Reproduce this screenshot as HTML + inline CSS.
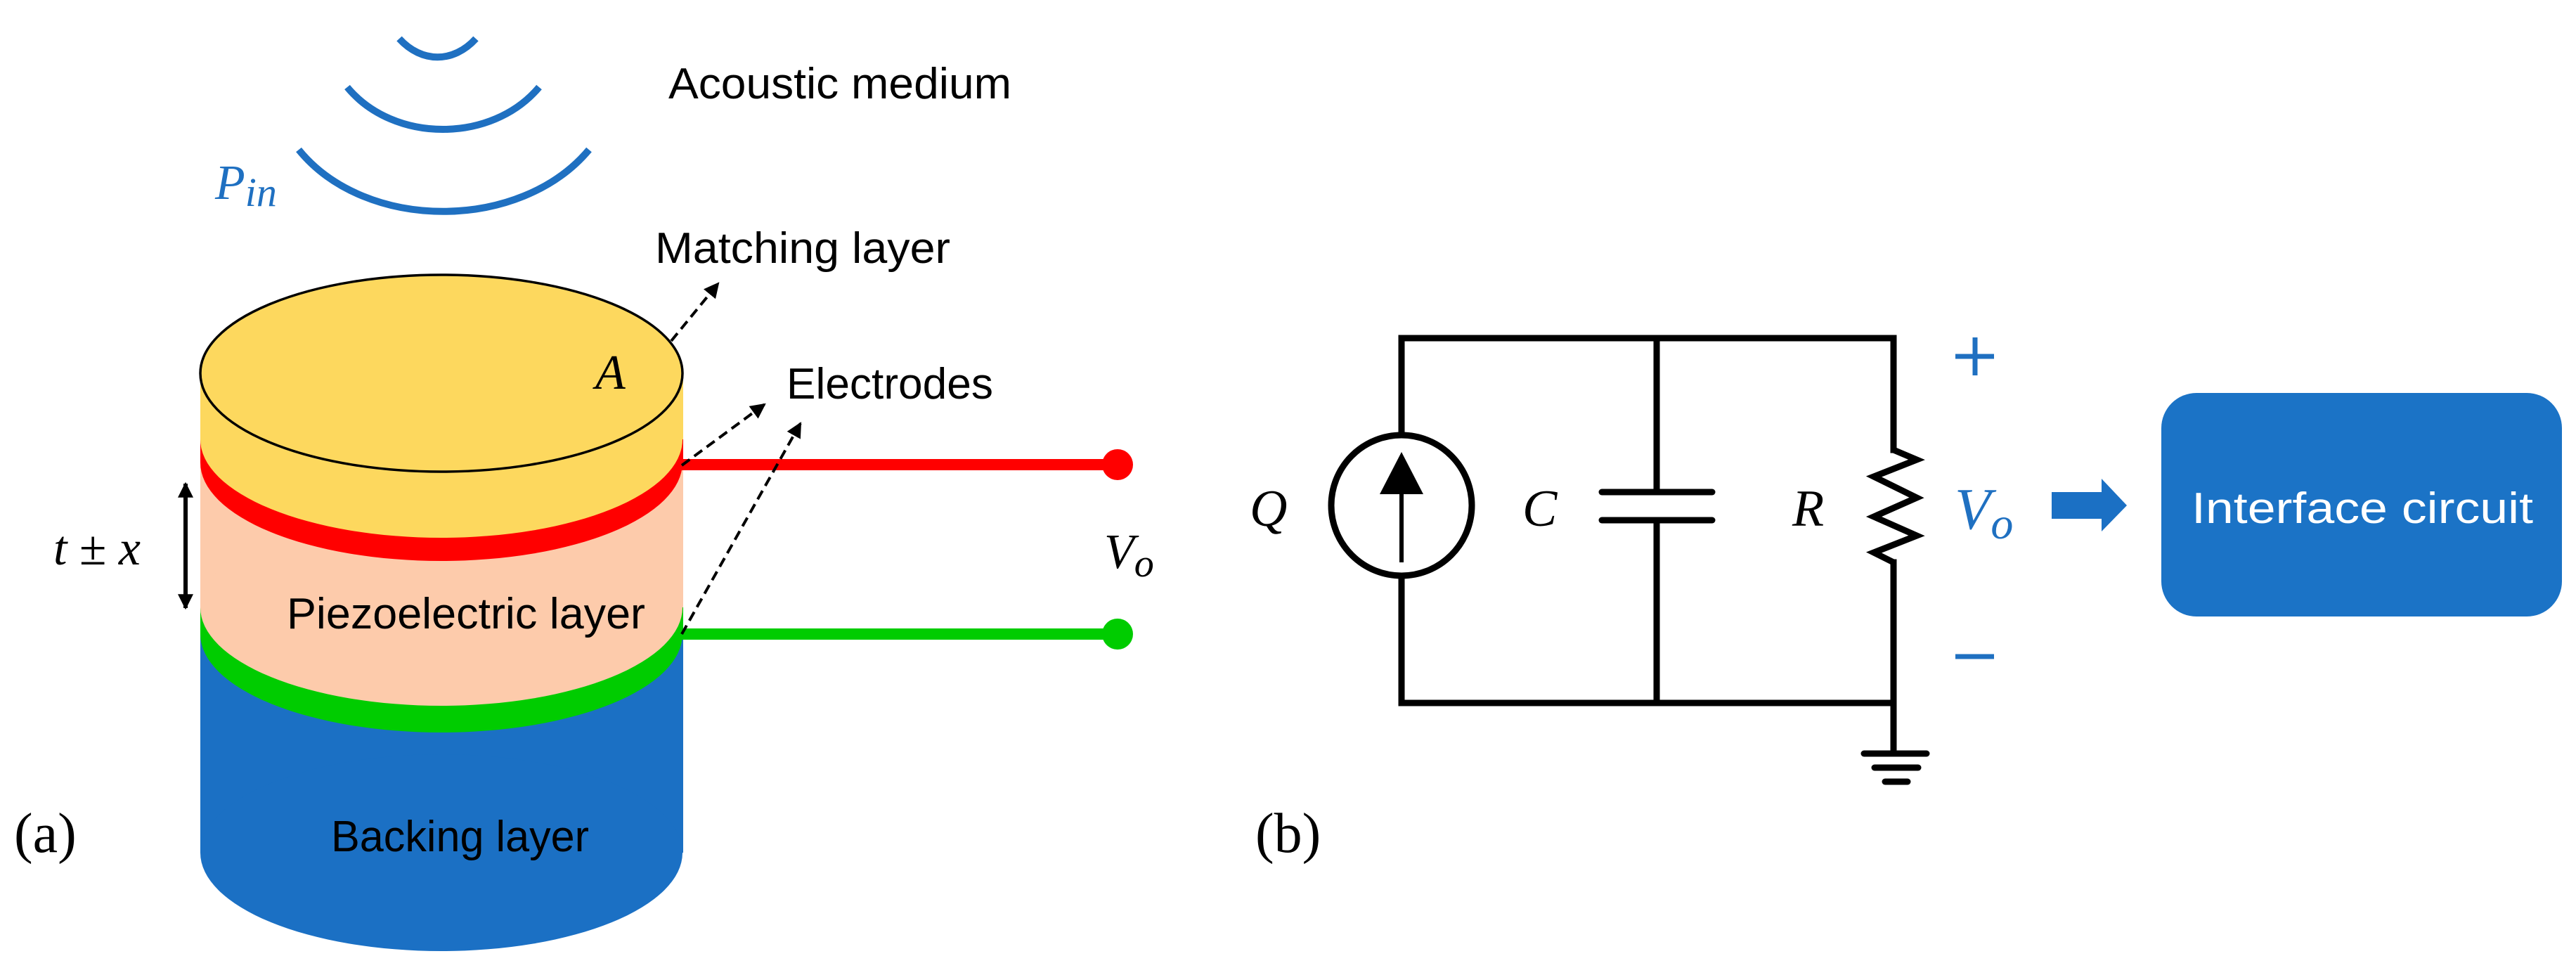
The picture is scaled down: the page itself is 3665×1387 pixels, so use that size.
<!DOCTYPE html>
<html><head><meta charset="utf-8"><style>html,body{margin:0;padding:0;background:#fff}svg{display:block}</style></head>
<body>
<svg width="3665" height="1387" viewBox="0 0 3665 1387" xmlns="http://www.w3.org/2000/svg">
<defs>
<marker id="ah" markerWidth="22" markerHeight="22" refX="9" refY="5" orient="auto" markerUnits="userSpaceOnUse" viewBox="0 0 10 10"><path d="M0,0 L10,5 L0,10 z" fill="#000"/></marker>
<marker id="ah2" viewBox="0 0 10 10" refX="9" refY="5" markerWidth="26" markerHeight="22" orient="auto-start-reverse" markerUnits="userSpaceOnUse"><path d="M0,0 L10,5 L0,10 z" fill="#000"/></marker>
</defs>
<!-- waves -->
<g fill="none" stroke="#1f70c1" stroke-width="10" stroke-linecap="butt">
<path d="M568 55 C600 90,645 90,677 55"/>
<path d="M494 124 C560 204,700 204,767 124"/>
<path d="M425 213 C520 330,740 330,838 213"/>
</g>
<text x="306" y="283" font-family="Liberation Serif, serif" font-style="italic" font-size="70" fill="#1f70c1">P<tspan font-size="58" dy="10">in</tspan></text>
<text x="951" y="140" font-family="Liberation Sans, sans-serif" font-size="62" textLength="488" lengthAdjust="spacingAndGlyphs">Acoustic medium</text>
<text x="932" y="374" font-family="Liberation Sans, sans-serif" font-size="62" textLength="420" lengthAdjust="spacingAndGlyphs">Matching layer</text>
<text x="1119" y="567" font-family="Liberation Sans, sans-serif" font-size="62" textLength="294" lengthAdjust="spacingAndGlyphs">Electrodes</text>
<!-- cylinder -->
<rect x="285" y="902" width="687" height="311" fill="#1b70c4"/>
<ellipse cx="628" cy="1213" rx="343" ry="140" fill="#1b70c4"/>
<rect x="285" y="864" width="687" height="38" fill="#00cc00"/>
<ellipse cx="628" cy="902" rx="343" ry="140" fill="#00cc00"/>
<rect x="285" y="658" width="687" height="206" fill="#fdcbab"/>
<ellipse cx="628" cy="864" rx="343" ry="140" fill="#fdcbab"/>
<rect x="285" y="625" width="687" height="33" fill="#ff0000"/>
<ellipse cx="628" cy="658" rx="343" ry="140" fill="#ff0000"/>
<rect x="285" y="531" width="687" height="94" fill="#fdd85e"/>
<ellipse cx="628" cy="625" rx="343" ry="140" fill="#fdd85e"/>
<ellipse cx="628" cy="531" rx="343" ry="140" fill="#fdd85e" stroke="#000" stroke-width="3.5"/>
<text x="847" y="553" font-family="Liberation Serif, serif" font-style="italic" font-size="70">A</text>
<text x="408" y="894" font-family="Liberation Sans, sans-serif" font-size="62" textLength="510" lengthAdjust="spacingAndGlyphs">Piezoelectric layer</text>
<text x="471" y="1211" font-family="Liberation Sans, sans-serif" font-size="62" textLength="367" lengthAdjust="spacingAndGlyphs">Backing layer</text>
<!-- wires -->
<line x1="968" y1="661" x2="1590" y2="661" stroke="#ff0000" stroke-width="16"/>
<circle cx="1590" cy="661" r="22" fill="#ff0000"/>
<line x1="968" y1="902" x2="1590" y2="902" stroke="#00cc00" stroke-width="16"/>
<circle cx="1590" cy="902" r="22" fill="#00cc00"/>
<text x="1571" y="808" font-family="Liberation Serif, serif" font-style="italic" font-size="70">V<tspan font-size="56" dy="12">o</tspan></text>
<!-- dashed arrows -->
<g stroke="#000" stroke-width="4" stroke-dasharray="14,8" fill="none">
<line x1="955" y1="485" x2="1022" y2="403" marker-end="url(#ah)"/>
<line x1="970" y1="662" x2="1088" y2="575" marker-end="url(#ah)"/>
<line x1="970" y1="902" x2="1139" y2="602" marker-end="url(#ah)"/>
</g>
<!-- thickness arrow -->
<line x1="264" y1="688" x2="264" y2="865" stroke="#000" stroke-width="6" marker-start="url(#ah2)" marker-end="url(#ah2)"/>
<text x="76" y="803" font-family="Liberation Serif, serif" font-style="italic" font-size="70">t <tspan font-style="normal">±</tspan> x</text>
<text x="20" y="1212" font-family="Liberation Serif, serif" font-size="80">(a)</text>
<text x="1786" y="1212" font-family="Liberation Serif, serif" font-size="80">(b)</text>
<!-- circuit -->
<g stroke="#000" stroke-width="9" fill="none" stroke-linecap="square">
<polyline points="1994,617 1994,481 2694,481 2694,640"/>
<line x1="2357" y1="481" x2="2357" y2="700"/>
<line x1="2357" y1="740" x2="2357" y2="1000"/>
<polyline points="1994,821 1994,1000 2694,1000 2694,800"/>
<polyline points="2694,640 2727,654 2666,678 2727,708 2666,735 2727,762 2666,786 2694,800" stroke-linejoin="miter" stroke-linecap="butt"/>
<line x1="2694" y1="1000" x2="2694" y2="1072"/>
</g>
<g stroke="#000" stroke-width="9" stroke-linecap="round">
<line x1="2279" y1="700" x2="2436" y2="700"/>
<line x1="2279" y1="740" x2="2436" y2="740"/>
<line x1="2652" y1="1072" x2="2741" y2="1072"/>
<line x1="2667" y1="1092" x2="2729" y2="1092"/>
<line x1="2682" y1="1112" x2="2714" y2="1112"/>
</g>
<circle cx="1994" cy="719" r="100" fill="none" stroke="#000" stroke-width="9"/>
<line x1="1994" y1="800" x2="1994" y2="700" stroke="#000" stroke-width="6"/>
<path d="M1994 643 L2025 703 L1963 703 z" fill="#000"/>
<text x="1778" y="748" font-family="Liberation Serif, serif" font-style="italic" font-size="74">Q</text>
<text x="2166" y="748" font-family="Liberation Serif, serif" font-style="italic" font-size="74">C</text>
<text x="2550" y="748" font-family="Liberation Serif, serif" font-style="italic" font-size="74">R</text>
<text x="2781" y="752" font-family="Liberation Serif, serif" font-style="italic" font-size="84" fill="#1f70c1">V<tspan font-size="64" dy="14">o</tspan></text>
<g stroke="#1f70c1" stroke-width="7">
<line x1="2782" y1="507" x2="2837" y2="507"/>
<line x1="2810" y1="480" x2="2810" y2="534"/>
<line x1="2782" y1="934" x2="2837" y2="934"/>
</g>
<path d="M2919 700 L2990 700 L2990 681 L3026 719 L2990 756 L2990 738 L2919 738 z" fill="#1b70c4"/>
<rect x="3075" y="559" width="570" height="318" rx="50" ry="50" fill="#1b73c6"/>
<text x="3361" y="744" text-anchor="middle" font-family="Liberation Sans, sans-serif" font-size="62" fill="#fff" textLength="486" lengthAdjust="spacingAndGlyphs">Interface circuit</text>
</svg>
</body></html>
